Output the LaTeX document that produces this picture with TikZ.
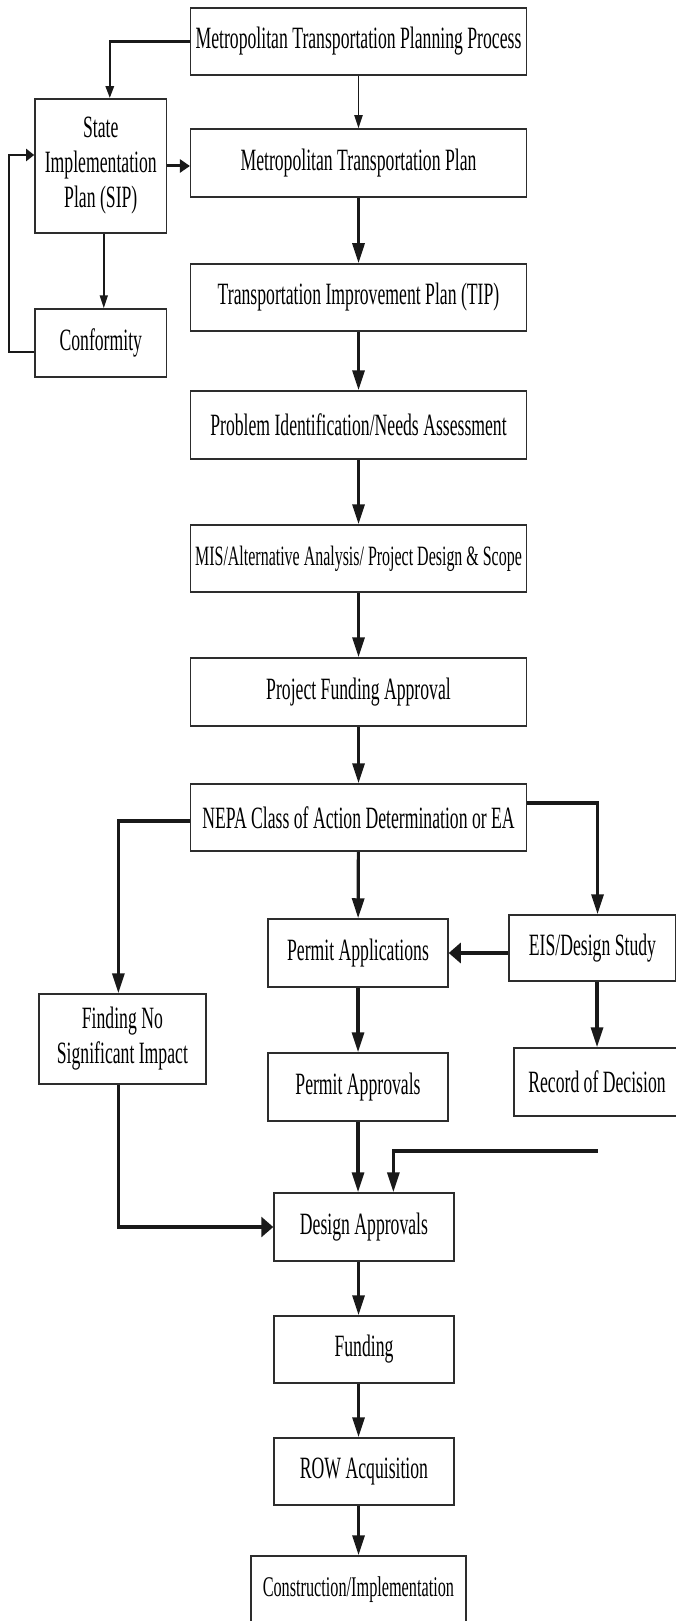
\documentclass[tikz,border=0pt]{standalone}
\usepackage{fontspec}
\setmainfont{Liberation Serif}[FakeStretch=0.57]
\usepackage{tikz}
\usetikzlibrary{arrows.meta, positioning}
\definecolor{myink}{RGB}{25,25,25}
\definecolor{myedge}{RGB}{45,45,45}
\tikzset{
  stagebox/.style={rectangle, draw=myedge, fill=white, line width=1.5pt,
    inner sep=0pt, align=center, minimum height=68pt,
    font=\fontsize{31pt}{35pt}\selectfont},
  widebox/.style={stagebox, minimum width=335.6pt},
  midbox/.style={stagebox, minimum width=180pt},
  sidebox/.style={stagebox, minimum width=131.7pt},
  downflow/.style={-{Triangle[length=20pt, width=12pt]}, line width=3.2pt, color=myink},
  acrossflow/.style={-{Triangle[length=12pt, width=20pt]}, line width=3.2pt, color=myink},
  thinflow/.style={-{Triangle[length=13pt, width=8pt]}, line width=1.8pt, color=myink}
}

\begin{document}
\begin{tikzpicture}[x=1pt, y=-1pt]
  \useasboundingbox (0,0) rectangle (676,1621);
  \clip (0,0) rectangle (676,1621);

  % Planning chain (centre column)
  \node[widebox, minimum height=67pt] (mtpp) at (358.5,41.5) {Metropolitan Transportation Planning Process};
  \node[widebox] (mtp) at (358.5,163) {Metropolitan Transportation Plan};
  \node[widebox, minimum height=67pt] (tip) at (358.5,297.5) {Transportation Improvement Plan (TIP)};
  \node[widebox] (pina) at (358.5,425) {Problem Identification/Needs Assessment};
  \node[widebox, minimum height=67pt, font=\fontsize{28pt}{33pt}\selectfont] (mis) at (358.5,558.5) {MIS/Alternative Analysis/ Project Design \& Scope};
  \node[widebox] (pfa) at (358.5,692) {Project Funding Approval};
  \node[widebox, minimum height=67pt] (nepa) at (358.5,817.5) {NEPA Class of Action Determination or EA};

  % SIP side branch (left)
  \node[sidebox, minimum height=134pt] (sip) at (100.8,166) {State\\Implementation\\Plan (SIP)};
  \node[sidebox] (conf) at (100.8,343) {Conformity};

  % Environmental branches
  \node[midbox] (permapp) at (358,953) {Permit Applications};
  \node[midbox] (permappr) at (358,1087) {Permit Approvals};
  \node[stagebox, minimum width=167pt, minimum height=66pt] (eis) at (592.5,948) {EIS/Design Study};
  \node[stagebox, minimum width=166pt] (rod) at (597,1082) {Record of Decision};
  \node[stagebox, minimum width=167pt, minimum height=90pt] (fnsi) at (122.4,1039) {Finding No\\Significant Impact};

  % Delivery chain (bottom)
  \node[midbox] (design) at (364,1227) {Design Approvals};
  \node[midbox, minimum height=67pt] (funding) at (364,1349.5) {Funding};
  \node[midbox, minimum height=67pt] (row) at (364,1471.5) {ROW Acquisition};
  \node[stagebox, minimum width=215.3pt, font=\fontsize{28.5pt}{33pt}\selectfont] (constr) at (358.4,1590) {Construction/Implementation};

  % Connections - top
  \draw[line width=2.6pt, color=myink, -{Triangle[length=12pt, width=8pt]}] (mtpp.west) -| ([xshift=9pt]sip.north);
  \draw[thinflow] (mtpp) -- (mtp);
  \draw[line width=3pt, color=myink, -{Triangle[length=10pt, width=13pt]}] (sip.east) -- (sip.east -| mtp.west);
  \draw[thinflow] ([xshift=3pt]sip.south) -- ([xshift=3pt]conf.north);
  \draw[line width=2.4pt, color=myink, -{Triangle[length=8pt, width=12pt]}] ([yshift=-9pt]conf.west) -- ++(-25,0) |- ([yshift=11pt]sip.west);

  % Connections - centre column
  \draw[downflow] (mtp) -- (tip);
  \draw[downflow] (tip) -- (pina);
  \draw[downflow] (pina) -- (mis);
  \draw[downflow] (mis) -- (pfa);
  \draw[downflow] (pfa) -- (nepa);

  % Connections - NEPA outcomes
  \draw[downflow] ([yshift=-3.5pt]nepa.west) -| ([xshift=-4pt]fnsi.north);
  \draw[downflow] ([yshift=14.5pt]nepa.east) -| ([xshift=5pt]eis.north);
  \draw[downflow] (nepa) -- (permapp);
  \draw[acrossflow] (eis.west |- permapp.east) -- (permapp.east);
  \draw[downflow] (permapp) -- (permappr);
  \draw[downflow] (eis.south -| rod.north) -- (rod.north);

  % Connections - into design approvals
  \coordinate (rodtail) at (597.5,1151);
  \draw[downflow] (permappr.south) -- (permappr.south |- design.north);
  \draw[downflow] (rodtail) -| ([xshift=29.4pt]design.north);
  \draw[acrossflow] ([xshift=-4pt]fnsi.south) |- (design.west);

  % Connections - delivery
  \draw[downflow] (design.south -| mtpp.south) -- (funding.north -| mtpp.south);
  \draw[downflow] (funding.south -| mtpp.south) -- (row.north -| mtpp.south);
  \draw[downflow] (row.south -| mtpp.south) -- (constr.north -| mtpp.south);
\end{tikzpicture}
\end{document}
